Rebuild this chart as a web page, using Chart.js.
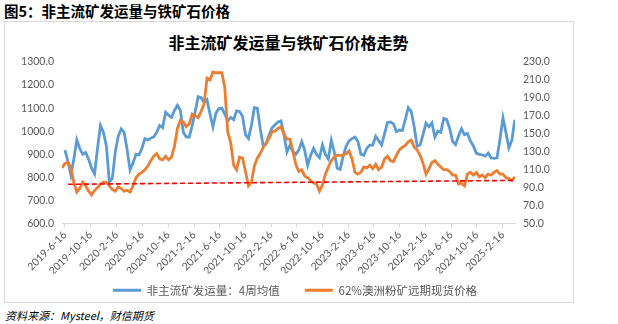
<!DOCTYPE html>
<html><head><meta charset="utf-8">
<script src="https://cdn.jsdelivr.net/npm/chart.js@4.4.0/dist/chart.umd.min.js"></script>
<style>
html,body{margin:0;padding:0;background:#fff;}
body{width:618px;height:324px;position:relative;overflow:hidden;font-family:"Noto Sans CJK SC",sans-serif;}
#fig{position:absolute;left:4px;top:2px;font-size:14.5px;font-weight:bold;color:#000;line-height:18px;}
#box{position:absolute;left:4px;top:21px;width:568px;height:280px;border:1px solid #d9d9d9;}
#ttl{position:absolute;left:4px;width:569px;top:31px;text-align:center;font-size:16px;font-weight:bold;color:#000;line-height:22px;}
#src{position:absolute;left:5px;top:308px;font-size:11px;font-style:italic;color:#000;line-height:15px;}
canvas{position:absolute;left:0;top:0;}
</style></head>
<body>
<div id="box"></div>
<div id="fig">图5：非主流矿发运量与铁矿石价格</div>
<div id="ttl">非主流矿发运量与铁矿石价格走势</div>
<div id="src">资料来源：Mysteel，财信期货</div>
<canvas id="c" width="618" height="324"></canvas>
<script>
// biweekly observations starting 2019-06-02
const startDate = '2019-06-02';
const endDate = '2025-04-14';
const stepDays = 14;

const shipments = [null,918,870,810,880,962,925,900,908,878,
840,815,925,1025,995,935,780,795,910,978,
1010,995,920,832,862,900,897,925,968,962,
970,975,995,1025,1015,1082,1070,1060,1090,1112,
1090,995,975,975,1025,1085,1150,1145,1125,1137,
1075,1019,1078,1098,1100,1074,1045,1060,1050,1088,
1085,1065,985,968,1025,1102,1100,1010,935,945,
985,1015,1028,1040,1045,985,910,938,912,900,
918,955,918,852,895,926,900,885,940,900,
880,960,910,840,835,892,935,958,968,975,
955,900,896,926,940,940,978,960,940,990,
1038,1040,1032,998,1005,1003,1050,1102,1085,1020,
935,940,985,1035,1019,1036,975,1000,995,1055,
1050,1012,955,942,980,1010,985,990,958,936,
905,900,898,892,905,884,882,885,965,1058,
995,928,960,1050];

const orePrice = [112,117,118,112,96,85,89,96,92,86,
82,87,90,94,96,96,92,88,86,91,
89,86,87,85,92,101,105,107,110,114,
120,125,128,122,121,125,121,124,136,156,
165,163,158,161,172,170,168,175,183,212,
210,219,218,218,218,202,152,140,115,110,
124,123,108,92,96,114,123,128,135,140,
145,152,153,156,158,150,144,144,131,116,
108,110,103,101,98,95,94,86,93,105,
113,120,124,126,126,126,128,131,122,107,
105,107,113,112,115,111,116,110,113,122,
125,120,119,126,132,135,137,141,143,135,
132,126,117,105,111,118,120,116,113,110,
110,108,104,104,94,95,92,105,107,104,
107,102,104,101,105,104,107,109,105,105,
101,100,98,102];

const refLineDates = ['2019-06-30','2025-04-14'];
const refLineValues = [93.7, 98.0];

const tickLabels = ['2019-6-16','2019-10-16','2020-2-16','2020-6-16','2020-10-16','2021-2-16','2021-6-16','2021-10-16','2022-2-16','2022-6-16','2022-10-16','2023-2-16','2023-6-16','2023-10-16','2024-2-16','2024-6-16','2024-10-16','2025-2-16'];

const seriesNames = ['非主流矿发运量：4周均值','62%澳洲粉矿远期现货价格'];

function toMs(s){const p=s.split('-').map(Number);return Date.UTC(p[0],p[1]-1,p[2]);}
const DAY = 86400000;
const t0 = toMs(startDate);
const xs = shipments.map((_, i) => t0 + i*stepDays*DAY);
const tickMs = tickLabels.map(toMs);
const labelOf = {}; tickLabels.forEach((l,i)=>{labelOf[tickMs[i]]=l;});

const tickFont = {family:'Lato, "Noto Sans CJK SC", sans-serif', size:10.5};

new Chart(document.getElementById('c'), {
  type:'line',
  data:{
    datasets:[
      {label:seriesNames[0], data:shipments.map((v,i)=>({x:xs[i],y:v})), yAxisID:'yL',
       borderColor:'#5B9BD5', backgroundColor:'#5B9BD5', borderWidth:2.8, pointRadius:0, tension:0, order:2},
      {label:seriesNames[1], data:orePrice.map((v,i)=>({x:xs[i],y:v})), yAxisID:'yR',
       borderColor:'#ED7D31', backgroundColor:'#ED7D31', borderWidth:2.8, pointRadius:0, tension:0, order:1},
      {label:'ref', data:refLineValues.map((v,i)=>({x:toMs(refLineDates[i]),y:v})), yAxisID:'yR',
       borderColor:'#FF0000', backgroundColor:'#FF0000', borderWidth:1.6, borderDash:[5,3], pointRadius:0, order:0}
    ]
  },
  options:{
    responsive:false, animation:false, devicePixelRatio:1,
    layout:{padding:{top:62, bottom:18, left:0, right:28}},
    plugins:{
      title:{display:false}, tooltip:{enabled:false},
      legend:{position:'bottom',
        labels:{boxWidth:28, boxHeight:3, padding:11, color:'#595959',
          font:{family:'"Noto Sans CJK SC", sans-serif', size:11.5},
          filter:(item)=>item.datasetIndex<2,
          generateLabels:(chart)=>chart.data.datasets.map((d,i)=>({text:i===0?d.label+'\u3000 ':d.label, fillStyle:d.borderColor, strokeStyle:d.borderColor, lineWidth:0, hidden:false, datasetIndex:i, fontColor:'#595959'}))
        }}
    },
    scales:{
      x:{type:'linear', min:toMs(startDate), max:toMs(endDate),
        afterBuildTicks:(s)=>{s.ticks = tickMs.map(v=>({value:v}));},
        afterFit:(s)=>{s.height=50;},
        ticks:{autoSkip:false, minRotation:45, maxRotation:45, padding:1, color:'#595959', font:tickFont,
          callback:(v)=>labelOf[v]||''},
        grid:{display:true, drawOnChartArea:false, drawTicks:true, tickLength:4, color:'#d9d9d9'},
        border:{display:true, color:'#d9d9d9'}
      },
      yL:{position:'left', min:600, max:1300,
        afterFit:(s)=>{s.width=62;},
        ticks:{stepSize:100, padding:8, color:'#595959', font:tickFont, callback:(v)=>v.toFixed(1)},
        grid:{display:false, drawTicks:false}, border:{display:false}
      },
      yR:{position:'right', min:50, max:230,
        afterFit:(s)=>{s.width=75;},
        ticks:{stepSize:20, padding:8, color:'#595959', font:tickFont, callback:(v)=>v.toFixed(1)},
        grid:{display:false, drawTicks:false}, border:{display:false}
      }
    }
  }
});
</script>
</body></html>
